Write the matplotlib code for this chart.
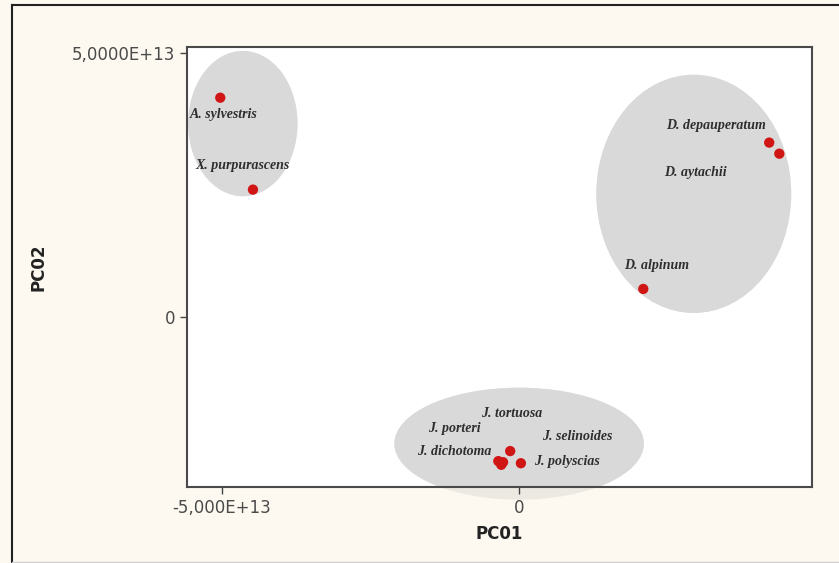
import matplotlib.pyplot as plt
from matplotlib.patches import Ellipse

# species scores on the first two principal coordinates
species = ["A. sylvestris", "X. purpurascens", "D. depauperatum", "D. aytachii",
           "D. alpinum", "J. tortuosa", "J. porteri", "J. selinoides",
           "J. dichotoma", "J. polyscias"]
pco1 = [-5.03e13, -4.48e13, 4.21e13, 4.38e13, 2.09e13,
        -0.15e13, -0.35e13, -0.27e13, -0.30e13, 0.03e13]
pco2 = [4.15e13, 2.41e13, 3.30e13, 3.09e13, 0.53e13,
        -2.54e13, -2.73e13, -2.75e13, -2.80e13, -2.77e13]

# where each name is written
label_x = [-4.97e13, -4.65e13, 3.32e13, 2.96e13, 2.31e13,
           -0.12e13, -1.09e13, 0.98e13, -1.09e13, 0.81e13]
label_y = [3.84e13, 2.86e13, 3.62e13, 2.73e13, 0.97e13,
           -1.82e13, -2.12e13, -2.27e13, -2.54e13, -2.73e13]

# group ellipses: centre x, centre y, width, height
groups = [(-4.65e13, 3.66e13, 1.84e13, 2.75e13),
          (2.94e13, 2.33e13, 3.28e13, 4.51e13),
          (0.0, -2.40e13, 4.20e13, 2.12e13)]

xticks = [-5e13, 0]
xticklabels = ["-5,000E+13", "0"]
yticks = [0, 5e13]
yticklabels = ["0", "5,0000E+13"]

bg = "#fdf9f0"
fig = plt.figure(figsize=(8.39, 5.63), dpi=100, facecolor=bg)
ax = fig.add_axes([187 / 839, 1 - 487 / 563, 625 / 839, 440 / 563])
ax.set_facecolor("white")

for cx, cy, w, h in groups:
    # faint spill outside the frame, then the clipped body
    ax.add_patch(Ellipse((cx, cy), w, h, facecolor="#ece9e2", edgecolor="none",
                         clip_on=False, zorder=0))
    ax.add_patch(Ellipse((cx, cy), w, h, facecolor="#d9d9d9", edgecolor="none",
                         zorder=1))

ax.scatter(pco1, pco2, s=55, color="#d01515", edgecolors="none", zorder=3)

for name, tx, ty in zip(species, label_x, label_y):
    ax.text(tx, ty, name, ha="center", va="center", fontsize=10,
            family="Liberation Serif", style="italic", weight="bold",
            color="#2e2e2e", zorder=4)

ax.set_xlim(-5.59e13, 4.93e13)
ax.set_ylim(-3.22e13, 5.11e13)
ax.set_xticks(xticks)
ax.set_xticklabels(xticklabels)
ax.set_yticks(yticks)
ax.set_yticklabels(yticklabels)
ax.tick_params(direction="out", length=5, width=1, color="#444444",
               labelsize=12, labelcolor="#4a4a4a")

for sp in ax.spines.values():
    sp.set_linewidth(1.5)
    sp.set_color("#4a4a4a")

ax.set_xlabel("PC01", fontsize=12, weight="bold", color="#222222", labelpad=6)
ax.set_ylabel("PC02", fontsize=12, weight="bold", color="#222222")
ax.yaxis.set_label_coords((47 - 187) / 625, 0.5)

# outer frame of the figure
fig.add_artist(plt.Line2D([12 / 839, 12 / 839], [0, 1 - 5 / 563], color="#222222", lw=1.5))
fig.add_artist(plt.Line2D([12 / 839, 1], [1 - 5 / 563, 1 - 5 / 563], color="#222222", lw=1.5))
fig.add_artist(plt.Line2D([12 / 839, 1], [1.5 / 563, 1.5 / 563], color="#cfcfcf", lw=1))

fig.savefig("out.png", dpi=100, facecolor=bg)
